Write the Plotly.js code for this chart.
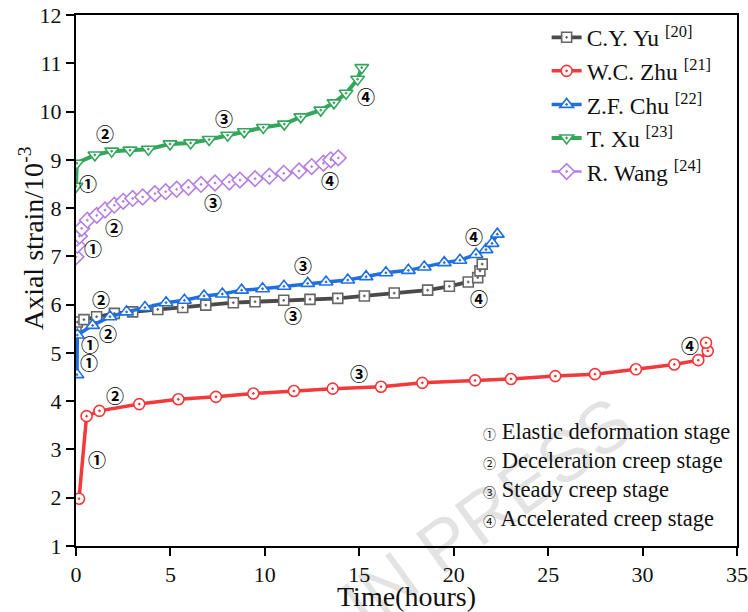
<!DOCTYPE html>
<html>
<head>
<meta charset="utf-8">
<script src="https://cdn.plot.ly/plotly-3.0.1.min.js"></script>
<style>html,body{margin:0;padding:0;background:#fff;}#chart{width:748px;height:612px;}</style>
</head>
<body>
<div id="chart"></div>
<script>
// ---- Data ----
const yuX   = [0, 0.07, 0.42, 1.09, 2.03, 3.0, 4.33, 5.65, 6.87, 8.33, 9.48, 11.0, 12.39, 13.86, 15.27, 16.85, 18.62, 19.77, 20.77, 21.27, 21.39, 21.51];
const yuY   = [5.55, 5.64, 5.69, 5.75, 5.82, 5.85, 5.90, 5.94, 5.99, 6.04, 6.06, 6.09, 6.11, 6.13, 6.18, 6.24, 6.30, 6.38, 6.47, 6.56, 6.70, 6.84];

const zhuX  = [0.16, 0.56, 1.24, 3.35, 5.42, 7.41, 9.39, 11.54, 13.59, 16.15, 18.34, 21.13, 23.03, 25.38, 27.48, 29.65, 31.68, 32.95, 33.45, 33.36];
const zhuY  = [1.98, 3.69, 3.80, 3.94, 4.04, 4.09, 4.16, 4.21, 4.26, 4.30, 4.38, 4.43, 4.46, 4.52, 4.56, 4.66, 4.76, 4.85, 5.04, 5.21];

const chuX  = [0.05, 0.07, 0.88, 1.80, 2.68, 3.65, 4.77, 5.74, 6.78, 7.75, 8.77, 9.88, 11.01, 12.27, 13.24, 14.39, 15.36, 16.41, 17.60, 18.44, 19.50, 20.33, 21.18, 21.71, 22.03, 22.31];
const chuY  = [4.55, 5.37, 5.57, 5.75, 5.85, 5.94, 6.04, 6.09, 6.18, 6.22, 6.30, 6.33, 6.38, 6.44, 6.47, 6.51, 6.58, 6.66, 6.71, 6.78, 6.87, 6.92, 7.04, 7.14, 7.27, 7.46];

const xuX   = [0, 0.04, 1.0, 1.89, 2.86, 3.83, 4.98, 6.07, 7.05, 8.03, 8.91, 9.92, 11.03, 11.9, 12.96, 13.66, 14.3, 14.91, 15.13];
const xuY   = [8.45, 8.93, 9.10, 9.18, 9.20, 9.22, 9.33, 9.35, 9.42, 9.51, 9.58, 9.67, 9.74, 9.89, 10.03, 10.18, 10.38, 10.67, 10.91];

const wangX = [0, 0.07, 0.18, 0.30, 0.60, 1.10, 1.54, 2.03, 2.50, 3.00, 3.53, 4.18, 4.75, 5.33, 5.95, 6.62, 7.36, 8.12, 8.68, 9.48, 10.24, 11.0, 11.81, 12.48, 13.1, 13.49, 13.89];
const wangY = [6.99, 7.23, 7.42, 7.58, 7.75, 7.85, 7.96, 8.06, 8.14, 8.20, 8.23, 8.30, 8.34, 8.39, 8.43, 8.49, 8.52, 8.54, 8.58, 8.61, 8.66, 8.72, 8.77, 8.86, 8.93, 9.00, 9.04];

const seriesNames = ['C.Y. Yu <sup>[20]</sup>', 'W.C. Zhu <sup>[21]</sup>', 'Z.F. Chu <sup>[22]</sup>', 'T. Xu <sup>[23]</sup>', 'R. Wang <sup>[24]</sup>'];

// stage labels placed on curves
const stageX     = [0.64, 1.54, 7.84, 15.36, 0.90, 2.01, 7.25, 13.45, 1.32, 11.49, 21.34, 0.74, 0.69, 1.69, 12.02, 21.07, 1.11, 2.07, 14.98, 32.51];
const stageY     = [8.52, 9.55, 9.87, 10.32, 7.17, 7.61, 8.13, 8.58, 6.11, 5.78, 6.13, 5.18, 4.81, 5.41, 6.82, 7.42, 2.80, 4.12, 4.58, 5.16];
const stageLabel = ['①','②','③','④','①','②','③','④','②','③','④','①','①','②','③','④','①','②','③','④'];

const stageKey = ['Elastic deformation stage', 'Deceleration creep stage', 'Steady creep stage', 'Accelerated creep stage'];
const stageSym = ['①','②','③','④'];

const xTicks = [0, 5, 10, 15, 20, 25, 30, 35];
const yTicks = [1, 2, 3, 4, 5, 6, 7, 8, 9, 10, 11, 12];

const xTitle = 'Time(hours)';
const yTitle = 'Axial strain/10<sup>-3</sup>';

const SERIF = 'Times New Roman, Liberation Serif, serif';
const CIRC = 'Noto Sans CJK SC, DejaVu Sans, sans-serif';

// ---- Traces ----
function mk(x, y, name, lineColor, lineWidth, markColor, symbol, msize) {
  return {
    x: x, y: y, name: name, type: 'scatter', mode: 'lines+markers',
    line: {color: lineColor, width: lineWidth},
    marker: {symbol: symbol, size: msize, color: '#ffffff', line: {color: markColor, width: 1.6}}
  };
}
const data = [
  mk(yuX, yuY, seriesNames[0], '#4a4a4a', 3.8, '#666666', 'square-dot', 10),
  mk(zhuX, zhuY, seriesNames[1], '#f2393b', 3.5, '#f2393b', 'circle-dot', 11),
  mk(chuX, chuY, seriesNames[2], '#1f6fe0', 3.5, '#1f6fe0', 'triangle-up-dot', 12),
  mk(xuX, xuY, seriesNames[3], '#33a65c', 4, '#33a65c', 'triangle-down-dot', 12),
  mk(wangX, wangY, seriesNames[4], '#b47fe0', 2.5, '#b47fe0', 'diamond-dot', 12)
];

const annotations = [];
// watermark (drawn first)
annotations.push({x: 0.622, y: 0.064, xref: 'paper', yref: 'paper', xanchor: 'center', yanchor: 'middle',
  text: 'IN PRESS', showarrow: false, textangle: -36,
  font: {family: 'Liberation Sans, Arial, sans-serif', size: 72, color: 'rgba(0,0,0,0.11)'}});
for (let i = 0; i < stageX.length; i++) {
  annotations.push({x: stageX[i], y: stageY[i], xref: 'x', yref: 'y', text: stageLabel[i], showarrow: false,
    xanchor: 'center', yanchor: 'middle',
    font: {family: CIRC, size: 18, color: '#000', weight: 'bold'}});
}
for (let i = 0; i < stageKey.length; i++) {
  annotations.push({x: 0.612, y: 0.216 - i * 0.0545, xref: 'paper', yref: 'paper', xanchor: 'left', yanchor: 'middle',
    text: '<span style="font-family:Noto Sans CJK SC;font-size:13px">' + stageSym[i] + '</span> ' + stageKey[i],
    showarrow: false, font: {family: SERIF, size: 22.5, color: '#111'}});
}
// y-axis title (positioned like the reference, above the axis centre)
annotations.push({x: -0.068, y: 0.58, xref: 'paper', yref: 'paper', xanchor: 'center', yanchor: 'middle',
  text: yTitle, textangle: -90, showarrow: false, font: {family: SERIF, size: 28, color: '#111'}});

const layout = {
  width: 748, height: 612,
  margin: {l: 76, r: 11, t: 15, b: 66},
  paper_bgcolor: '#ffffff', plot_bgcolor: '#ffffff',
  font: {family: SERIF, color: '#111'},
  showlegend: true,
  legend: {x: 0.712, y: 0.999, xanchor: 'left', yanchor: 'top', bgcolor: 'rgba(0,0,0,0)',
    font: {family: SERIF, size: 23.5, color: '#111'}, tracegroupgap: 0},
  xaxis: {range: [0, 35], tickvals: xTicks, showgrid: false, zeroline: false,
    showline: true, mirror: true, linecolor: '#000', linewidth: 2,
    ticks: 'outside', ticklen: 8, tickwidth: 2, tickcolor: '#000',
    tickfont: {family: SERIF, size: 22, color: '#111'},
    title: {text: xTitle, font: {family: SERIF, size: 28, color: '#111'}, standoff: 2}},
  yaxis: {range: [1, 12], tickvals: yTicks, showgrid: false, zeroline: false,
    showline: true, mirror: true, linecolor: '#000', linewidth: 2,
    ticks: 'outside', ticklen: 8, tickwidth: 2, tickcolor: '#000',
    tickfont: {family: SERIF, size: 22, color: '#111'}},
  annotations: annotations
};

Plotly.newPlot('chart', data, layout, {displayModeBar: false, staticPlot: true});
</script>
</body>
</html>
